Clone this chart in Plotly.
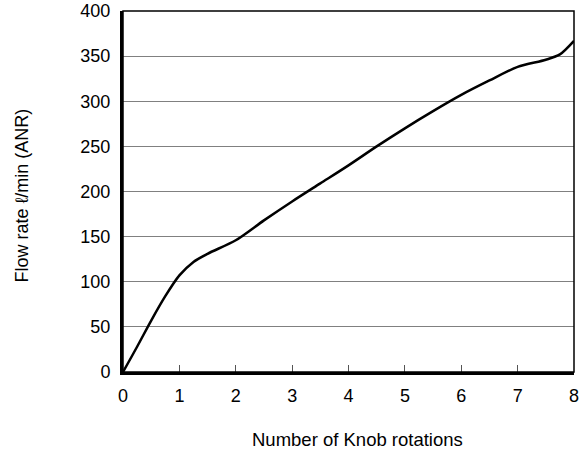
import plotly.graph_objects as go

rotations = [0, 0.25, 0.5, 0.75, 1, 1.25, 1.5, 2, 2.5, 3, 3.5, 4, 4.5, 5, 5.5, 6, 6.5, 7, 7.5, 7.75, 8]
flow_rate = [0, 28, 57, 84, 107, 122, 131, 146, 168, 189, 209, 229, 250, 270, 289, 307, 323, 338, 346, 352, 367]

x_ticks = [0, 1, 2, 3, 4, 5, 6, 7, 8]
y_ticks = [0, 50, 100, 150, 200, 250, 300, 350, 400]

x_title = "Number of Knob rotations"
y_title = "Flow rate ℓ/min (ANR)"

fig = go.Figure()
fig.add_trace(go.Scatter(x=rotations, y=flow_rate, mode="lines",
                         line=dict(color="black", width=2.5, shape="spline", smoothing=0.8),
                         showlegend=False, hoverinfo="skip"))

font = dict(family="Liberation Sans, Arial, sans-serif", color="black")
fig.update_layout(
    width=588, height=456,
    margin=dict(l=123, r=14, t=11, b=84, autoexpand=False),
    paper_bgcolor="white", plot_bgcolor="white",
    font=dict(size=18, **font),
    xaxis=dict(range=[0, 8], tickvals=x_ticks, ticks="inside", ticklen=7, tickcolor="#555555",
               showgrid=False, zeroline=False, showline=True, linecolor="black", linewidth=3,
               ticklabelstandoff=5, automargin=False, ticklabeloverflow="allow", tickfont=dict(size=18)),
    yaxis=dict(range=[0, 400], tickvals=y_ticks, ticks="", showgrid=True, gridcolor="#808080", gridwidth=1,
               zeroline=False, showline=True, linecolor="black", linewidth=3,
               ticklabelstandoff=6, automargin=False, ticklabeloverflow="allow", tickfont=dict(size=18)),
    shapes=[dict(type="rect", xref="paper", yref="paper", x0=0, y0=0, x1=1, y1=1,
                 line=dict(color="black", width=1.5), layer="above")],
    annotations=[
        dict(text=x_title, xref="paper", yref="paper", x=0.5, y=0, xanchor="center", yanchor="middle",
             xshift=9, yshift=-67, showarrow=False, font=dict(size=18.5)),
        dict(text=y_title, xref="paper", yref="paper", x=0, y=0.5, xanchor="center", yanchor="middle",
             xshift=-102, yshift=-4, textangle=-90, showarrow=False, font=dict(size=18)),
    ],
)
fig.write_html("out.html", config={"displayModeBar": False, "staticPlot": True},
               post_script="document.body.style.margin='0';document.body.style.overflow='hidden';")
